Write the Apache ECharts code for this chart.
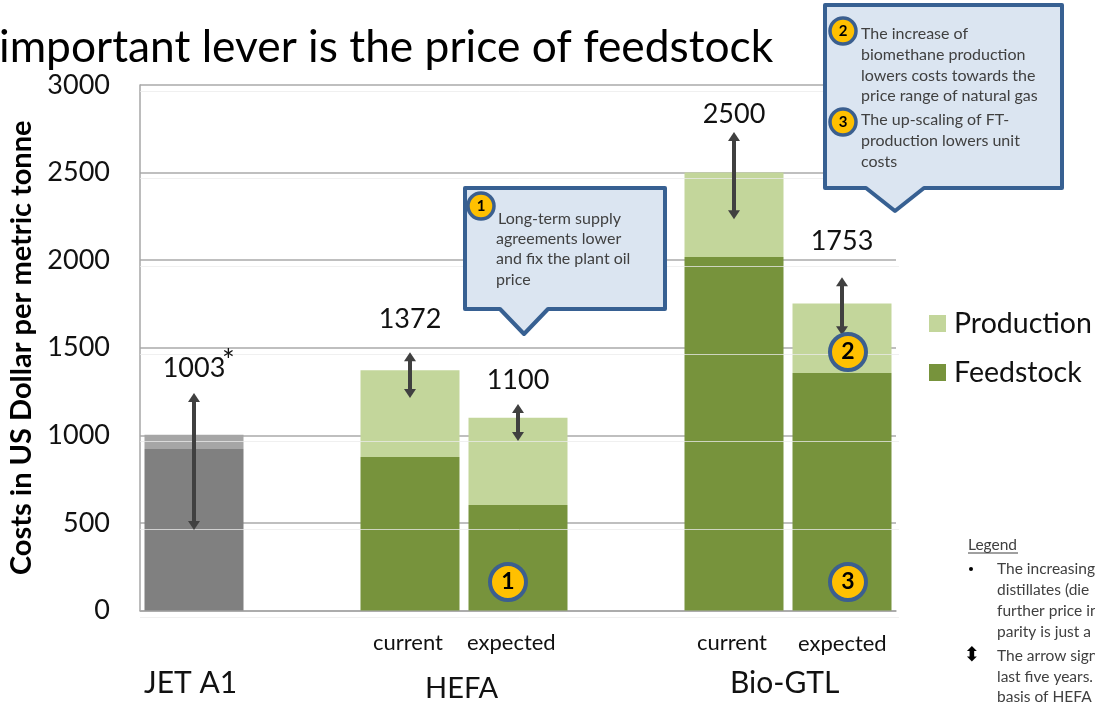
<!DOCTYPE html>
<html>
<head>
<meta charset="utf-8">
<title>Costs per metric tonne</title>
<style>
  html, body { margin: 0; padding: 0; background: #fff; overflow: hidden; }
  #chart { width: 1095px; height: 702px; }
</style>
<script src="https://cdn.jsdelivr.net/npm/echarts@6/dist/echarts.min.js"></script>
</head>
<body>
<div id="chart"></div>
<script>
// slots on the x axis, empty ones make the gaps between the groups
const categories = ['JET A1', '', 'HEFA current', 'HEFA expected', '', 'Bio-GTL current', 'Bio-GTL expected']
const feedstock = [922, null, 876, 602, null, 2018, 1356]
const production = [81, null, 496, 498, null, 482, 397]
const totals = [1003, null, 1372, 1100, null, 2500, 1753]
// where the number sits above each arrow
const totalLabelY = [1380, null, 1664, 1316, null, 2835, 2110]
const arrowHigh = [1241, null, 1475, 1179, null, 2731, 1903]
const arrowLow = [459, null, 1213, 967, null, 2234, 1572]

const font = 'Lato'
const chart = echarts.init(document.getElementById('chart'))

// 画文字
function text (x, y, str, size, extra) {
  return {
    type: 'text',
    x,
    y,
    z: 30,
    style: Object.assign({ text: str, fontFamily: font, fontSize: size, fill: '#111', textVerticalAlign: 'middle' }, extra)
  }
}

function badge (x, y, r, str, size) {
  return [
    { type: 'circle', z: 30, shape: { cx: x, cy: y, r }, style: { fill: '#ffc000', stroke: '#3b5f8f', lineWidth: r > 15 ? 4 : 3.5 } },
    text(x, y, str, size, { fontWeight: 'bold', fill: '#000', textAlign: 'center' })
  ]
}

function callout (points) {
  return {
    type: 'polygon',
    z: 20,
    shape: { points },
    style: { fill: '#dbe5f1', stroke: '#376092', lineWidth: 4, lineJoin: 'round' }
  }
}

const noteColor = '#404040'
const graphics = [
  callout([[465, 188], [665, 188], [665, 309], [548, 309], [524, 334], [500, 309], [465, 309]]),
  callout([[825, 5], [1062, 5], [1062, 188], [924, 188], [895, 211], [866, 188], [825, 188]]),
  ...badge(481, 206, 13, '1', 15),
  ...badge(843, 31, 13, '2', 15),
  ...badge(843, 122, 13, '3', 15),
  ...badge(508, 582, 18, '1', 23),
  ...badge(848, 352, 18, '2', 23),
  ...badge(848, 582, 18, '3', 23),
  text(498, 219, 'Long-term supply', 16, { fill: noteColor }),
  text(496, 239, 'agreements lower', 16, { fill: noteColor }),
  text(496, 259, 'and fix the plant oil', 16, { fill: noteColor }),
  text(496, 280, 'price', 16, { fill: noteColor }),
  text(861, 34, 'The increase of', 16, { fill: noteColor }),
  text(861, 55, 'biomethane production', 16, { fill: noteColor }),
  text(861, 76, 'lowers costs towards the', 16, { fill: noteColor }),
  text(861, 96, 'price range of natural gas', 16, { fill: noteColor }),
  text(861, 120, 'The up-scaling of FT-', 16, { fill: noteColor }),
  text(861, 141, 'production lowers unit', 16, { fill: noteColor }),
  text(861, 162, 'costs', 16, { fill: noteColor }),
  text(373, 643, 'current', 22),
  text(467, 643, 'expected', 22),
  text(697, 643, 'current', 22),
  text(798, 644, 'expected', 22),
  text(144, 683, 'JET A1', 30),
  text(425, 689, 'HEFA', 29),
  text(730, 683, 'Bio-GTL', 30),
  text(222, 361, '*', 30),
  text(968, 545, 'Legend', 15.5, { fill: noteColor }),
  { type: 'line', z: 30, shape: { x1: 968, y1: 553, x2: 1018, y2: 553 }, style: { stroke: noteColor, lineWidth: 1 } },
  { type: 'circle', z: 30, shape: { cx: 971, cy: 569, r: 2 }, style: { fill: '#000' } },
  text(997, 569, 'The increasing', 15.5, { fill: noteColor }),
  text(997, 590, 'distillates (die', 15.5, { fill: noteColor }),
  text(997, 611, 'further price in', 15.5, { fill: noteColor }),
  text(997, 632, 'parity is just a', 15.5, { fill: noteColor }),
  text(972, 656, '\u2B0D', 20, { fill: '#000', textAlign: 'center', fontFamily: 'DejaVu Sans' }),
  text(997, 656, 'The arrow sign', 15.5, { fill: noteColor }),
  text(997, 677, 'last five years.', 15.5, { fill: noteColor }),
  text(997, 697, 'basis of HEFA', 15.5, { fill: noteColor })
]

function renderArrow (params, api) {
  const top = api.coord([api.value(0), api.value(1)])
  const bottom = api.coord([api.value(0), api.value(2)])
  const x = top[0]
  const color = '#404040'
  return {
    type: 'group',
    children: [
      { type: 'line', shape: { x1: x, y1: top[1] + 6, x2: x, y2: bottom[1] - 6 }, style: { stroke: color, lineWidth: 4 } },
      { type: 'polygon', shape: { points: [[x, top[1]], [x + 6, top[1] + 9], [x - 6, top[1] + 9]] }, style: { fill: color } },
      { type: 'polygon', shape: { points: [[x, bottom[1]], [x + 6, bottom[1] - 9], [x - 6, bottom[1] - 9]] }, style: { fill: color } }
    ]
  }
}

chart.setOption({
  animation: false,
  backgroundColor: '#fff',
  textStyle: { fontFamily: font },
  title: {
    text: 'important lever is the price of feedstock',
    left: -1,
    top: 26,
    padding: 0,
    textStyle: { fontFamily: font, fontWeight: 'normal', fontSize: 44.3, color: '#000' }
  },
  legend: {
    orient: 'vertical',
    left: 929,
    top: 309,
    padding: 0,
    itemWidth: 17,
    itemHeight: 17,
    itemGap: 20,
    icon: 'rect',
    selectedMode: false,
    data: ['Production', 'Feedstock'],
    textStyle: { fontFamily: font, fontSize: 28.5, color: '#111', padding: [0, 0, 0, 3] }
  },
  grid: [
    { left: 140, right: 199, top: 85, bottom: 91.5, outerBoundsMode: 'none' },
    // the slide has a second faint set of rules just below the chart's own
    { left: 140, right: 196, top: 91, bottom: 85, outerBoundsMode: 'none' }
  ],
  xAxis: [
    {
      type: 'category',
      data: categories,
      axisTick: { show: false },
      axisLabel: { show: false },
      axisLine: { lineStyle: { color: '#a6a6a6', width: 1.5 } }
    },
    { type: 'category', gridIndex: 1, data: categories, show: false }
  ],
  yAxis: [
    {
      type: 'value',
      min: 0,
      max: 3000,
      interval: 500,
      name: 'Costs in US Dollar per metric tonne',
      nameLocation: 'middle',
      nameGap: 101,
      nameRotate: 90,
      nameTextStyle: { fontFamily: font, fontWeight: 'bold', fontSize: 29, color: '#000' },
      axisLine: { show: true, lineStyle: { color: '#a6a6a6', width: 1.5 } },
      axisTick: { show: false },
      axisLabel: {
        margin: 30,
        fontFamily: font,
        fontSize: 27,
        color: '#111',
        formatter: v => String(v)
      },
      splitLine: { lineStyle: { color: '#bfbfbf', width: 2 } }
    },
    {
      type: 'value',
      gridIndex: 1,
      min: 0,
      max: 3000,
      interval: 500,
      z: 5,
      axisLine: { show: false },
      axisTick: { show: false },
      axisLabel: { show: false },
      splitLine: { show: true, lineStyle: { color: 'rgba(235,235,235,0.75)', width: 1 } }
    }
  ],
  series: [
    {
      name: 'Feedstock',
      type: 'bar',
      stack: 'cost',
      barWidth: 99,
      itemStyle: { color: '#77933c' },
      // JET A1 has no feedstock split in green, it is drawn in grey
      data: feedstock.map((v, i) => (i === 0 ? { value: v, itemStyle: { color: '#808080' } } : v))
    },
    {
      name: 'Production',
      type: 'bar',
      stack: 'cost',
      barWidth: 99,
      itemStyle: { color: '#c3d69b' },
      data: production.map((v, i) => (i === 0 ? { value: v, itemStyle: { color: '#a6a6a6' } } : v))
    },
    {
      name: 'arrows',
      type: 'custom',
      z: 6,
      renderItem: renderArrow,
      data: arrowHigh.map((v, i) => (v === null ? null : [i, v, arrowLow[i]])).filter(Boolean)
    },
    {
      name: 'totals',
      type: 'scatter',
      symbolSize: 1,
      z: 7,
      itemStyle: { opacity: 0 },
      label: {
        show: true,
        position: 'inside',
        fontFamily: font,
        fontSize: 27,
        color: '#111',
        opacity: 1,
        formatter: p => p.data[2]
      },
      data: totalLabelY.map((v, i) => (v === null ? null : [i, v, totals[i]])).filter(Boolean)
    }
  ],
  graphic: graphics
})
</script>
</body>
</html>
